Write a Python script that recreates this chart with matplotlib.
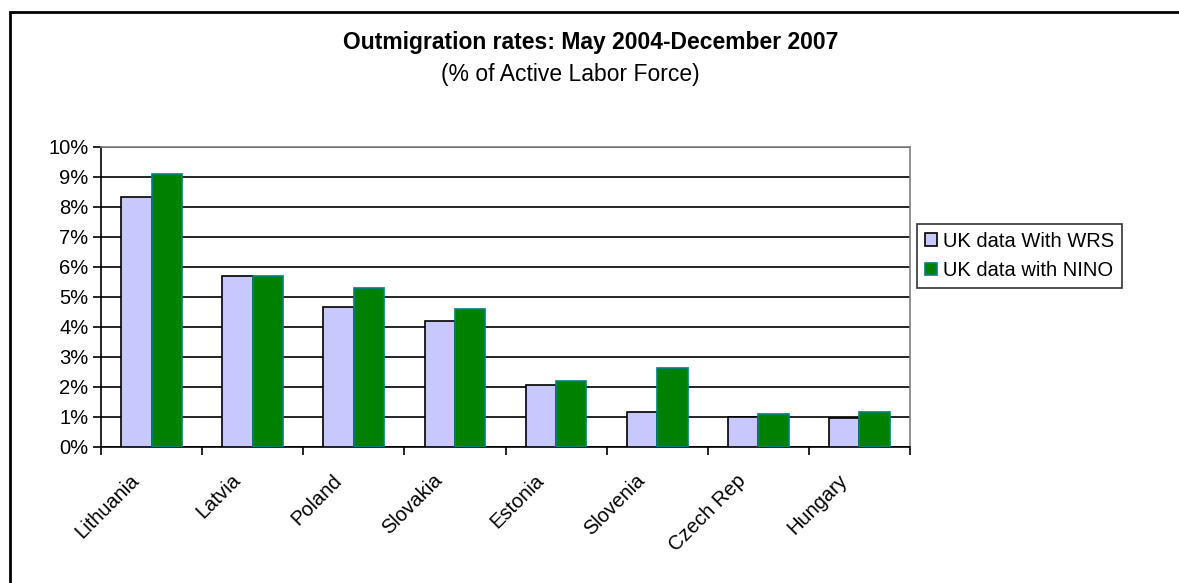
import numpy as np
import matplotlib.pyplot as plt
import matplotlib.transforms as mtransforms
from matplotlib.patches import Rectangle
from matplotlib.ticker import FuncFormatter, FixedLocator

plt.rcParams['font.family'] = ['Liberation Sans', 'DejaVu Sans']

countries = ['Lithuania', 'Latvia', 'Poland', 'Slovakia', 'Estonia',
             'Slovenia', 'Czech Rep', 'Hungary']
wrs = [8.34, 5.70, 4.67, 4.21, 2.07, 1.16, 1.01, 0.96]
nino = [9.09, 5.70, 5.31, 4.61, 2.21, 2.62, 1.11, 1.16]

fig = plt.figure(figsize=(11.79, 5.83), dpi=100)
ax = fig.add_axes([101 / 1179, 1 - 447 / 583, 809 / 1179, 300 / 583])

x = np.arange(len(countries))
w = 0.3
ax.bar(x - w / 2, wrs, w, color='#c8c8ff', edgecolor='black', linewidth=1.2,
       label='UK data With WRS', zorder=3)
ax.bar(x + w / 2, nino, w, color='#008000', edgecolor='#008080', linewidth=1.2,
       label='UK data with NINO', zorder=3)

ax.set_xlim(-0.5, len(countries) - 0.5)
ax.set_ylim(0, 10)
ax.set_yticks(np.arange(0, 11, 1))
ax.yaxis.set_major_formatter(FuncFormatter(lambda v, p: f'{v:.0f}%'))
ax.yaxis.grid(True, color='black', linewidth=1.2, zorder=0)

ax.set_xticks(x)
ax.set_xticklabels(countries, rotation=45, ha='right', rotation_mode='anchor')
ax.xaxis.set_minor_locator(FixedLocator(np.arange(-0.5, len(countries), 1)))
ax.tick_params(axis='x', which='major', length=0, pad=17, labelsize=14.5)
ax.tick_params(axis='x', which='minor', length=6, width=1.2, direction='out')
ax.tick_params(axis='y', length=6, width=1.2, labelsize=14.5, pad=3)

# shift the slanted labels to the left, like the original
shift = mtransforms.ScaledTranslation(-22 / 100, 0, fig.dpi_scale_trans)
for lab in ax.get_xticklabels():
    lab.set_transform(lab.get_transform() + shift)

for s in ['top', 'right']:
    ax.spines[s].set_color('#808080')
    ax.spines[s].set_linewidth(1.2)
for s in ['left', 'bottom']:
    ax.spines[s].set_linewidth(1.2)

fig.text(591 / 1179, 1 - 42 / 583,
         'Outmigration rates: May 2004-December 2007',
         ha='center', va='center', fontsize=16.5, fontweight='bold')
fig.text(570 / 1179, 1 - 75 / 583, '(% of Active Labor Force)',
         ha='center', va='center', fontsize=16.5)

leg = fig.legend(loc='center left', bbox_to_anchor=(917 / 1179, 1 - 256 / 583),
                 fontsize=14.5, frameon=True, fancybox=False, edgecolor='black',
                 handlelength=0.6, handleheight=0.6, handletextpad=0.3,
                 borderpad=0.4, labelspacing=0.5, borderaxespad=0)
leg.get_frame().set_linewidth(1.2)

fig.patches.append(Rectangle((10 / 1179, -0.1), 1.2, 1 - 12 / 583 + 0.1,
                             transform=fig.transFigure, fill=False,
                             edgecolor='black', linewidth=2))

fig.savefig('out.png', dpi=100)
